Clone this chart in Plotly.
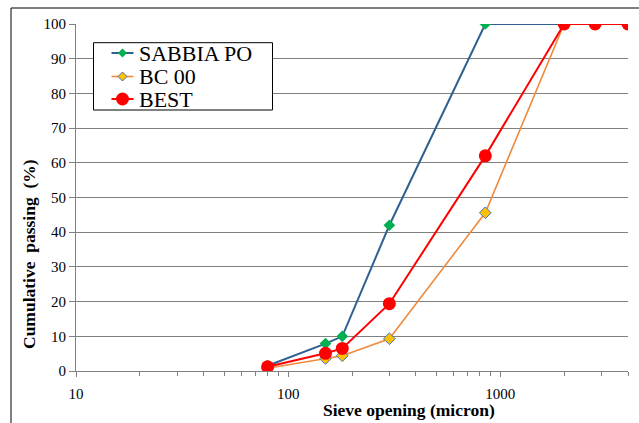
import plotly.graph_objects as go

# Sieve openings (micron) and cumulative passing (%)
sieve = [80, 150, 180, 300, 850, 2000, 2800, 4000]
sabbia_po = [1.5, 7.9, 10.0, 42.0, 100.0, 100.0, 100.0, 100.0]
bc_00 = [0.8, 3.6, 4.4, 9.3, 45.6, 100.0, 100.0, 100.0]
best = [1.2, 5.1, 6.5, 19.4, 62.0, 100.0, 100.0, 100.0]

series_names = ["SABBIA PO", "BC 00", "BEST"]
x_labels = [10, 100, 1000]
minor_vals = [m * d for d in (10, 100, 1000) for m in range(2, 10) if m * d <= 4000]

# plot-area geometry in pixels (used to place the legend box and titles)
W, H = 639, 423
ML, MR, MT, MB = 76, 11, 24, 52
PW, PH = W - ML - MR, H - MT - MB


def px(x):
    return (x - ML) / PW


def py(y):
    return (H - MB - y) / PH


styles = [
    dict(line=dict(color="#2F6090", width=2),
         marker=dict(symbol="diamond", size=9, color="#00B050", line=dict(width=0))),
    dict(line=dict(color="#F08A3C", width=1.6),
         marker=dict(symbol="diamond", size=9, color="#FFC000",
                     line=dict(color="#4472C4", width=1))),
    dict(line=dict(color="#FF0000", width=2),
         marker=dict(symbol="circle", size=13, color="#FF0000", line=dict(width=0))),
]

fig = go.Figure()
for name, vals, st in zip(series_names, [sabbia_po, bc_00, best], styles):
    fig.add_trace(go.Scatter(x=sieve, y=vals, name=name, mode="lines+markers",
                             showlegend=False, **st))

# legend drawn as a boxed key
shapes = [
    dict(type="rect", xref="paper", yref="paper",
         x0=px(11), x1=1.2, y0=-0.3, y1=py(8),
         line=dict(color="black", width=1), fillcolor="rgba(0,0,0,0)", layer="below"),
    dict(type="rect", xref="paper", yref="paper",
         x0=px(93.5), x1=px(272.5), y0=py(110), y1=py(42.7),
         line=dict(color="black", width=1), fillcolor="white", layer="above"),
]
annotations = []
rows = [53, 76.5, 99]
for name, st, ry in zip(series_names, styles, rows):
    yc = py(ry)
    shapes.append(dict(type="line", xref="paper", yref="paper",
                       x0=px(111.5), x1=px(133.5), y0=yc, y1=yc,
                       line=dict(color=st["line"]["color"], width=st["line"]["width"])))
    mk = st["marker"]
    r = mk["size"] / 2
    if mk["symbol"] == "circle":
        shapes.append(dict(type="circle", xref="paper", yref="paper",
                           xsizemode="pixel", ysizemode="pixel",
                           xanchor=px(122.5), yanchor=yc,
                           x0=-r, x1=r, y0=-r, y1=r,
                           fillcolor=mk["color"], line=dict(width=0)))
    else:
        lw = mk["line"]["width"]
        shapes.append(dict(type="path", xref="paper", yref="paper",
                           xsizemode="pixel", ysizemode="pixel",
                           xanchor=px(122.5), yanchor=yc,
                           path=f"M 0 {r} L {r} 0 L 0 {-r} L {-r} 0 Z",
                           fillcolor=mk["color"],
                           line=dict(color=mk["line"].get("color", mk["color"]),
                                     width=lw if lw else 0)))
    annotations.append(dict(xref="paper", yref="paper", x=px(136.5), y=yc,
                            xanchor="left", yanchor="middle", showarrow=False,
                            text=name,
                            font=dict(family="Liberation Serif", size=22, color="black")))

annotations.append(dict(xref="paper", yref="paper", x=px(409), y=py(410),
                        xanchor="center", yanchor="middle", showarrow=False,
                        text="<b>Sieve opening (micron)</b>",
                        font=dict(family="Liberation Serif", size=17.5, color="black")))
annotations.append(dict(xref="paper", yref="paper", x=px(29), y=py(254),
                        xanchor="center", yanchor="middle", showarrow=False,
                        textangle=-90,
                        text="<b>Cumulative  passing  (%)</b>",
                        font=dict(family="Liberation Serif", size=17.5, color="black")))

fig.update_layout(
    width=W, height=H,
    margin=dict(l=ML, r=MR, t=MT, b=MB),
    paper_bgcolor="white", plot_bgcolor="white",
    font=dict(family="Liberation Serif", size=15, color="black"),
    showlegend=False,
    xaxis=dict(
        type="log", range=[1, 3.60206],
        tickvals=x_labels, ticktext=[str(v) for v in x_labels],
        ticks="outside", ticklen=5, tickcolor="#808080",
        ticklabelstandoff=4,
        showline=True, linecolor="#808080", linewidth=1,
        showgrid=False, zeroline=False,
        minor=dict(tickvals=minor_vals, ticks="outside", ticklen=4,
                   tickcolor="#808080", showgrid=False),
    ),
    yaxis=dict(
        range=[0, 100], dtick=10,
        ticks="outside", ticklen=6, tickcolor="#808080",
        showline=True, linecolor="#808080", linewidth=1,
        showgrid=True, gridcolor="#808080", gridwidth=1,
        zeroline=False,
    ),
    shapes=shapes,
    annotations=annotations,
)

fig.write_html("out.html")
